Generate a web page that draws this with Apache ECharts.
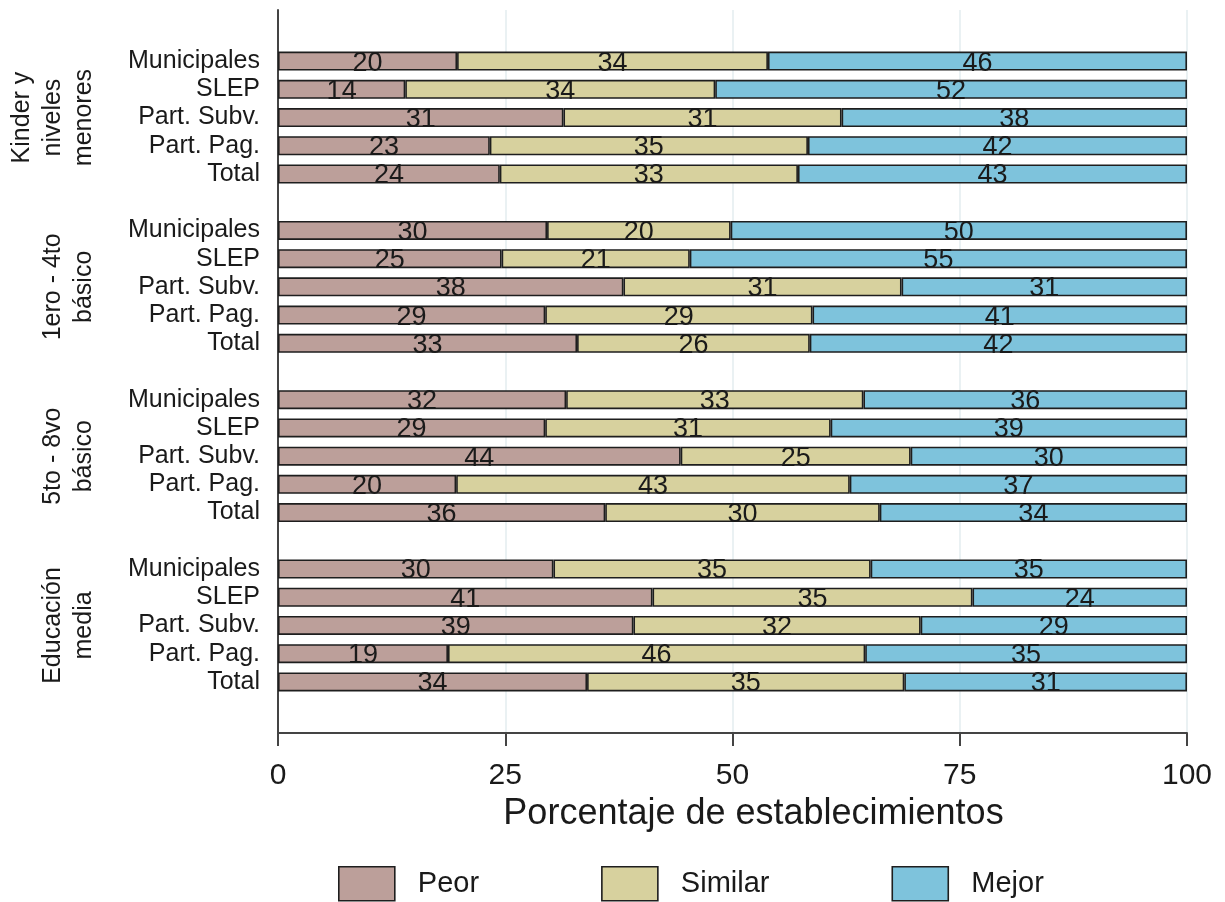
<!DOCTYPE html>
<html>
<head>
<meta charset="utf-8">
<script src="https://cdn.jsdelivr.net/npm/echarts@6/dist/echarts.min.js"></script>
<style>
html,body{margin:0;padding:0;background:#fff;}
#chart{width:1225px;height:902px;}
</style>
</head>
<body>
<div id="chart"></div>
<script>
// ---- data ----
var rowLabels = ['Municipales', 'SLEP', 'Part. Subv.', 'Part. Pag.', 'Total'];
var groupLabels = ['Kinder y\nniveles\nmenores', '1ero - 4to\nbásico', '5to - 8vo\nbásico', 'Educación\nmedia'];
var seriesNames = ['Peor', 'Similar', 'Mejor'];
var xTicks = [0, 25, 50, 75, 100];

var peorKinder = [19.7, 14.0, 31.4, 23.3, 24.4];
var peor1a4 = [29.6, 24.6, 38.0, 29.4, 32.9];
var peor5a8 = [31.7, 29.4, 44.3, 19.6, 36.0];
var peorMedia = [30.3, 41.2, 39.1, 18.7, 34.0];

var similarKinder = [34.2, 34.1, 30.6, 35.0, 32.8];
var similar1a4 = [20.2, 20.7, 30.6, 29.4, 25.6];
var similar5a8 = [32.7, 31.4, 25.3, 43.3, 30.2];
var similarMedia = [34.9, 35.2, 31.6, 45.9, 34.9];

var mejorKinder = [46.1, 51.9, 38.0, 41.7, 42.8];
var mejor1a4 = [50.2, 54.7, 31.4, 41.2, 41.5];
var mejor5a8 = [35.6, 39.2, 30.4, 37.1, 33.8];
var mejorMedia = [34.8, 23.6, 29.3, 35.4, 31.1];

// ---- build category rows (groups separated by an empty row) ----
function buildRows(groups) {
  var out = [];
  groups.forEach(function (g, i) {
    if (i > 0) out.push('-');
    g.forEach(function (v) { out.push(v); });
  });
  return out;
}
var cats = [], groupCats = [];
groupLabels.forEach(function (gl, i) {
  if (i > 0) { cats.push(''); groupCats.push(''); }
  rowLabels.forEach(function (r, j) {
    cats.push(r);
    groupCats.push(j === 2 ? gl : '');
  });
});
var peor = buildRows([peorKinder, peor1a4, peor5a8, peorMedia]);
var similar = buildRows([similarKinder, similar1a4, similar5a8, similarMedia]);
var mejor = buildRows([mejorKinder, mejor1a4, mejor5a8, mejorMedia]);

var colors = ['#bc9f9a', '#d7d19e', '#7ec3dc'];
var FONT = '"Liberation Sans", Arial, sans-serif';
var textColor = '#1a1a1a';

function barSeries(name, data, color) {
  return {
    name: name,
    type: 'bar',
    stack: 'total',
    xAxisIndex: 1,
    yAxisIndex: 1,
    data: data,
    barWidth: 19,
    itemStyle: { color: color, borderColor: '#1e1e1e', borderWidth: 1.6 },
    label: {
      show: true,
      position: 'inside',
      offset: [0, 2],
      fontFamily: FONT,
      fontSize: 27,
      color: textColor,
      formatter: function (p) { return Math.round(p.value); }
    },
    emphasis: { disabled: true },
    animation: false
  };
}

var chart = echarts.init(document.getElementById('chart'), null, { renderer: 'canvas' });
chart.setOption({
  backgroundColor: '#ffffff',
  animation: false,
  textStyle: { fontFamily: FONT },
  grid: [
    { left: 278, right: 38, top: 10, bottom: 169 },
    { left: 278, right: 38, top: 47, bottom: 206 }
  ],
  xAxis: [
    {
      gridIndex: 0, type: 'value', min: xTicks[0], max: xTicks[xTicks.length - 1], interval: 25,
      axisLine: { show: true, lineStyle: { color: '#444', width: 2 } },
      axisTick: { show: true, length: 13, lineStyle: { color: '#444', width: 2 } },
      axisLabel: { fontSize: 30, color: textColor, margin: 28, fontFamily: FONT },
      splitLine: { show: true, lineStyle: { color: '#e3ecef', width: 1.5 } },
      name: 'Porcentaje de establecimientos',
      nameLocation: 'middle',
      nameGap: 60,
      nameTextStyle: { fontSize: 36, color: textColor, fontFamily: FONT, padding: [0, 0, 0, 42] }
    },
    { gridIndex: 1, type: 'value', min: 0, max: 100, show: false }
  ],
  yAxis: [
    {
      gridIndex: 0, type: 'value', min: 0, max: 1,
      axisLine: { show: true, lineStyle: { color: '#444', width: 2 } },
      axisTick: { show: false }, axisLabel: { show: false }, splitLine: { show: false }
    },
    {
      gridIndex: 1, type: 'category', data: cats, inverse: true,
      axisLine: { show: false }, axisTick: { show: false },
      axisLabel: { interval: 0, fontSize: 25, color: textColor, margin: 18, fontFamily: FONT }
    },
    {
      gridIndex: 1, type: 'category', data: groupCats, inverse: true, position: 'left',
      axisLine: { show: false }, axisTick: { show: false },
      axisLabel: {
        interval: 0, rotate: 90, fontSize: 25, lineHeight: 31, color: textColor,
        margin: 178, align: 'center', verticalAlign: 'bottom', fontFamily: FONT
      }
    }
  ],
  legend: {
    data: seriesNames,
    left: 333, top: 861,
    itemWidth: 56, itemHeight: 34, itemGap: 122,
    icon: 'rect',
    itemStyle: { borderColor: '#1e1e1e', borderWidth: 1.6 },
    textStyle: { fontSize: 29, color: textColor, padding: [0, 0, 0, 18], fontFamily: FONT },
    selectedMode: false
  },
  series: [
    barSeries(seriesNames[0], peor, colors[0]),
    barSeries(seriesNames[1], similar, colors[1]),
    barSeries(seriesNames[2], mejor, colors[2])
  ]
});
</script>
</body>
</html>
